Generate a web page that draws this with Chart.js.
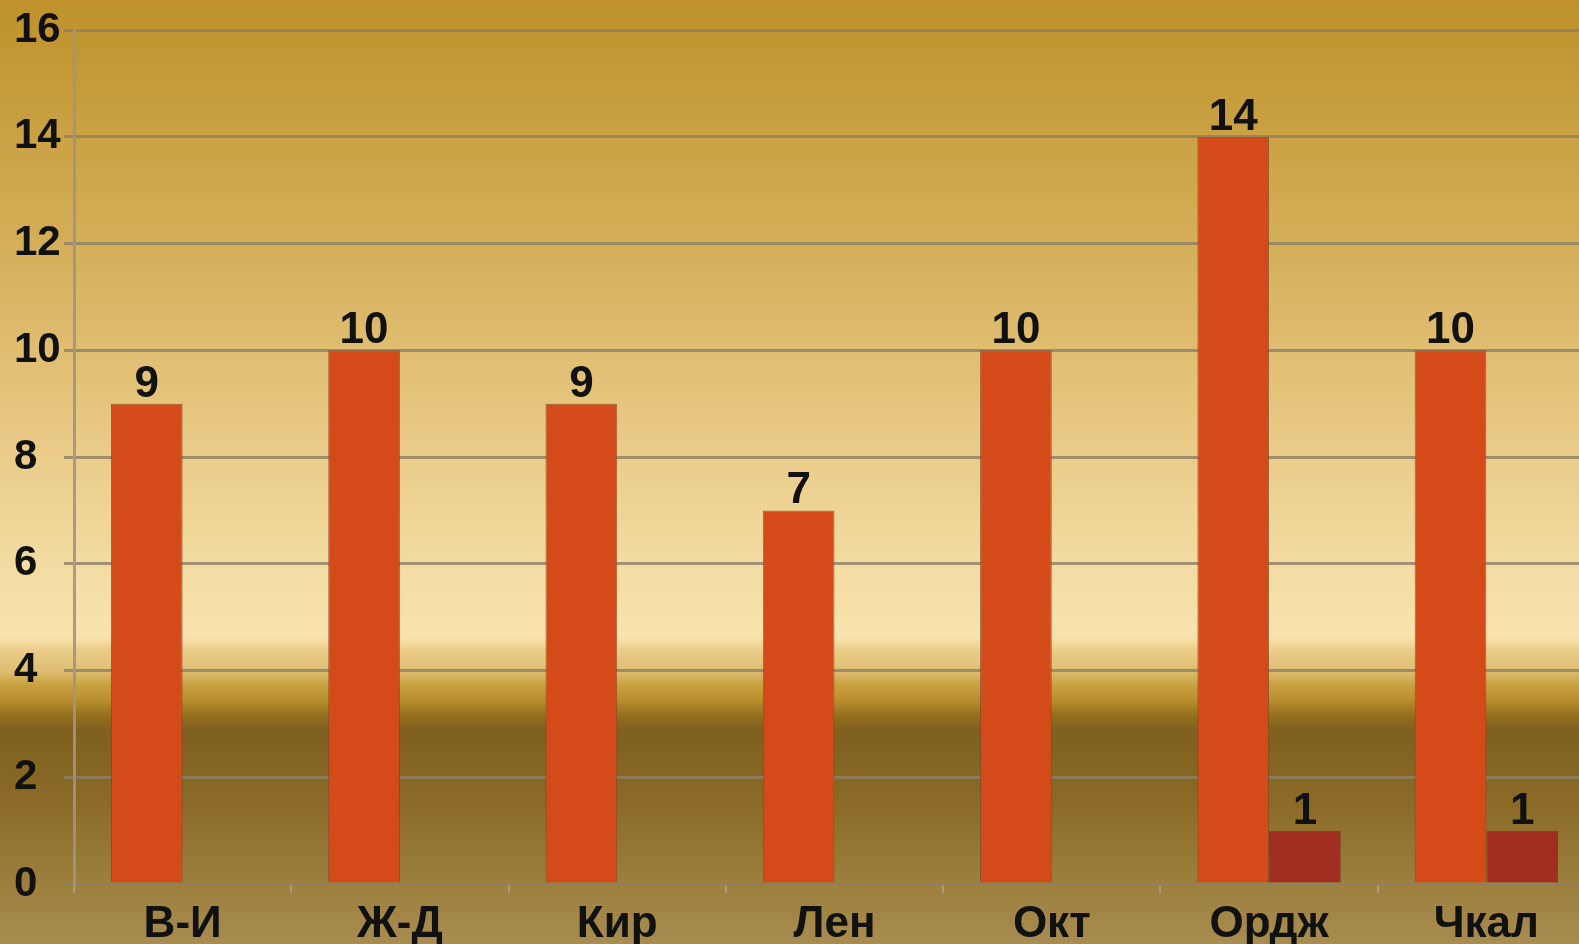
<!DOCTYPE html>
<html>
<head>
<meta charset="utf-8">
<script src="https://cdn.jsdelivr.net/npm/chart.js@4/dist/chart.umd.min.js"></script>
<style>
  html, body { margin: 0; padding: 0; overflow: hidden; background: #a88c50; }
  #wrap { width: 1595px; height: 944px; }
</style>
</head>
<body>
<div id="wrap"><canvas id="chart"></canvas></div>
<script>
// chart data
const categories = ['В-И', 'Ж-Д', 'Кир', 'Лен', 'Окт', 'Ордж', 'Чкал'];
const seriesA = [9, 10, 9, 7, 10, 14, 10];
const seriesB = [null, null, null, null, null, 1, 1];
const yMin = 0, yMax = 16, yStep = 2;

// golden background with the dark band near the bottom
const backgroundPlugin = {
    id: 'bg',
    beforeDraw(chart) {
        const ctx = chart.ctx;
        const h = chart.height;
        const g = ctx.createLinearGradient(0, 0, 0, h);
        const stops = [
            [0, '#bf922c'], [30, '#c0952f'], [240, '#d4ae58'], [450, '#eacb88'],
            [565, '#f2dca2'], [637, '#f8e3ae'], [650, '#ebcd88'], [671, '#debe72'],
            [685, '#c9a040'], [700, '#ba8e2e'], [715, '#96701f'], [730, '#80601e'],
            [800, '#8a6a26'], [880, '#9c7f3c'], [944, '#a88c50']
        ];
        stops.forEach(s => g.addColorStop(Math.min(s[0] / h, 1), s[1]));
        ctx.save();
        ctx.fillStyle = g;
        ctx.fillRect(0, 0, chart.width, h);
        ctx.restore();
    }
};

// value labels on top of the bars
const valueLabels = {
    id: 'valueLabels',
    afterDatasetsDraw(chart) {
        const ctx = chart.ctx;
        ctx.save();
        ctx.font = 'bold 44px "Liberation Sans", Arial, sans-serif';
        ctx.fillStyle = '#111';
        ctx.textAlign = 'center';
        ctx.textBaseline = 'alphabetic';
        chart.data.datasets.forEach((ds, i) => {
            chart.getDatasetMeta(i).data.forEach((bar, j) => {
                const v = ds.data[j];
                if (v === null || v === undefined) return;
                ctx.fillText(String(v), bar.x, bar.y - 7);
            });
        });
        ctx.restore();
    }
};

const ctx = document.getElementById('chart').getContext('2d');
new Chart(ctx, {
    type: 'bar',
    data: {
        labels: categories,
        datasets: [{
            label: 'A',
            data: seriesA,
            backgroundColor: '#d44a18',
            borderColor: 'rgba(130,70,40,0.8)',
            borderWidth: 1
        }, {
            label: 'B',
            data: seriesB,
            backgroundColor: '#a12e20',
            borderColor: 'rgba(110,50,30,0.8)',
            borderWidth: 1
        }]
    },
    options: {
        responsive: true,
        maintainAspectRatio: false,
        animation: false,
        layout: { padding: { left: 14, top: 30, right: 0, bottom: 0 } },
        plugins: {
            legend: { display: false },
            tooltip: { enabled: false }
        },
        datasets: {
            bar: { categoryPercentage: 0.66, barPercentage: 1, grouped: true, skipNull: false }
        },
        scales: {
            x: {
                grid: {
                    offset: true,
                    drawOnChartArea: false,
                    drawTicks: true,
                    tickLength: 9,
                    lineWidth: 2,
                    color: 'rgba(170,160,130,0.9)'
                },
                border: { display: false },
                ticks: {
                    color: '#111',
                    padding: 5,
                    font: { family: '"Liberation Sans", Arial, sans-serif', size: 44, weight: 'bold' }
                },
                afterFit(scale) { scale.height = 60; }
            },
            y: {
                min: yMin,
                max: yMax,
                ticks: {
                    stepSize: yStep,
                    color: '#111',
                    crossAlign: 'far',
                    padding: 4,
                    font: { family: '"Liberation Sans", Arial, sans-serif', size: 42, weight: 'bold' }
                },
                grid: {
                    color: 'rgba(140,128,105,0.8)',
                    lineWidth: 3,
                    tickLength: 10
                },
                border: { color: 'rgba(160,150,125,0.9)', width: 3 },
                afterFit(scale) { scale.width = 60; }
            }
        }
    },
    plugins: [backgroundPlugin, valueLabels]
});
</script>
</body>
</html>
